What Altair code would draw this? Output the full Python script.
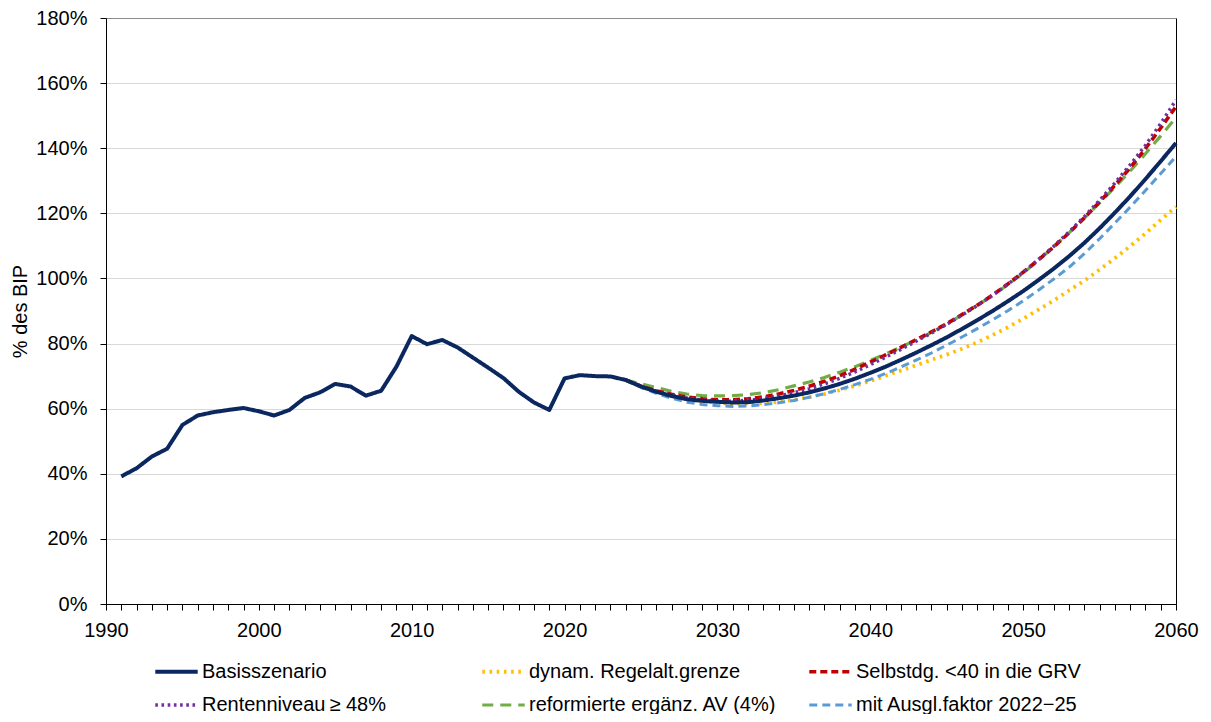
import altair as alt
import pandas as pd

# ---- data ----
hist_years = list(range(1991, 2024))
hist_vals = [39.2, 41.7, 45.3, 47.7, 55.0, 57.9, 58.9, 59.6, 60.2, 59.2,
             57.9, 59.6, 63.3, 65.0, 67.6, 66.8, 64.0, 65.5, 72.9, 82.3,
             79.8, 81.1, 78.8, 75.7, 72.6, 69.4, 65.2, 61.9, 59.6, 69.3,
             70.3, 70.0, 69.9]

proj_years = list(range(2024, 2061))
base_proj = [68.8, 66.8, 65.2, 63.9, 62.9, 62.4, 62.1, 61.9, 62.0, 62.5,
             63.2, 64.0, 65.0, 66.2, 67.6, 69.2, 71.0, 72.9, 75.0, 77.2,
             79.5, 81.9, 84.5, 87.2, 90.0, 93.0, 96.1, 99.5, 103.0, 106.8,
             110.9, 115.4, 120.2, 125.2, 130.5, 136.0, 141.6]
regelalt = [68.8, 66.8, 65.2, 63.9, 62.9, 62.3, 61.9, 61.6, 61.5, 61.7,
            62.1, 62.7, 63.5, 64.5, 65.7, 67.0, 68.5, 70.1, 71.7, 73.3,
            75.0, 76.6, 78.4, 80.4, 82.6, 85.0, 87.6, 90.4, 93.2, 96.3,
            99.3, 102.7, 106.2, 109.9, 113.8, 118.0, 122.0]
selbst = [68.8, 66.9, 65.5, 64.4, 63.6, 63.0, 62.7, 62.7, 63.0, 63.6,
          64.5, 65.6, 66.9, 68.4, 70.1, 72.1, 74.3, 76.5, 78.8, 81.2,
          83.6, 86.1, 88.9, 91.8, 94.9, 98.3, 101.9, 105.7, 109.7, 114.0,
          118.6, 123.5, 128.6, 134.0, 139.9, 146.2, 152.8]
rentenniveau = [68.8, 66.9, 65.4, 64.2, 63.3, 62.7, 62.4, 62.3, 62.6, 63.1,
                63.9, 64.9, 66.1, 67.6, 69.3, 71.3, 73.5, 75.8, 78.2, 80.7,
                83.2, 85.9, 88.7, 91.7, 94.8, 98.2, 101.9, 105.8, 109.9, 114.3,
                119.0, 124.0, 129.3, 134.9, 140.9, 147.6, 154.8]
reform_av = [68.8, 67.6, 66.5, 65.3, 64.5, 64.0, 63.9, 64.0, 64.3, 64.9,
             65.8, 67.0, 68.2, 69.6, 71.2, 72.9, 74.8, 76.8, 78.9, 81.1,
             83.4, 86.0, 88.8, 91.7, 94.8, 98.1, 101.6, 105.6, 109.7, 114.0,
             118.5, 123.2, 128.0, 133.0, 138.3, 143.8, 149.4]
ausgl = [68.8, 66.5, 64.7, 63.2, 62.0, 61.3, 60.9, 60.7, 60.8, 61.2,
         61.8, 62.5, 63.5, 64.6, 65.9, 67.4, 69.0, 70.8, 72.8, 74.9,
         77.1, 79.5, 82.0, 84.6, 87.3, 90.1, 93.1, 96.4, 99.8, 103.4,
         107.6, 112.2, 117.0, 121.9, 127.0, 132.2, 137.5]

names = ["Basisszenario", "dynam. Regelalt.grenze", "Selbstdg. <40 in die GRV",
         "Rentenniveau\u2009\u2265 48%", "reformierte erg\u00e4nz. AV (4%)",
         "mit Ausgl.faktor 2022\u221225"]
colors = ["#0B2760", "#FFC000", "#C00000", "#7030A0", "#70AD47", "#5B9BD5"]
dashes = [[1, 0], [2.6, 4.6], [7, 4], [2.6, 3.6], [11, 7], [8, 5]]
widths = [4, 3, 3, 3, 3, 3]

# ---- build table (draw order: scenarios first, base on top) ----
rows = []
series = [(names[1], regelalt), (names[4], reform_av), (names[2], selbst),
          (names[3], rentenniveau), (names[5], ausgl)]
for nm, vals in series:
    for y, v in zip(proj_years, vals):
        rows.append({"year": y, "value": v, "series": nm})
for y, v in zip(hist_years + proj_years, hist_vals + base_proj):
    rows.append({"year": y, "value": v, "series": names[0]})
df = pd.DataFrame(rows)

FONT = "Liberation Sans"

x_scale = alt.Scale(domain=[1990, 2060], nice=False, zero=False)
x_axis = alt.Axis(
    values=list(range(1990, 2061)),
    labelExpr="datum.value % 10 == 0 ? format(datum.value, 'd') : ''",
    labelOverlap=False, labelFlush=False, grid=False,
    tickSize=6, tickColor="black", domainColor="black",
    labelFontSize=20, labelFont=FONT, labelColor="black",
    labelPadding=10, title=None,
)

y_scale = alt.Scale(domain=[0, 180], nice=False, zero=True)

lines = alt.Chart(df).mark_line(strokeCap="butt", strokeJoin="round").encode(
    x=alt.X("year:Q", scale=x_scale, axis=x_axis),
    y=alt.Y(
        "value:Q", scale=y_scale,
        axis=alt.Axis(
            values=list(range(0, 181, 20)),
            labelExpr="datum.value + '%'",
            labelFlush=False, labelOverlap=False,
            grid=True,
            gridColor={"condition": {"test": "datum.value === 180", "value": "#8C8C8C"},
                       "value": "#D9D9D9"},
            gridWidth=1,
            tickSize=6, tickColor="black", domainColor="black",
            labelFontSize=20, labelFont=FONT, labelColor="black",
            labelPadding=13,
            title="% des BIP", titleFontSize=20, titleFont=FONT,
            titleFontWeight="normal", titleColor="black", titlePadding=5,
        ),
    ),
    color=alt.Color("series:N", scale=alt.Scale(domain=names, range=colors),
                    title=None),
    strokeDash=alt.StrokeDash("series:N", scale=alt.Scale(domain=names, range=dashes),
                              title=None),
    strokeWidth=alt.StrokeWidth("series:N", scale=alt.Scale(domain=names, range=widths),
                                title=None),
    detail="series:N",
)

border = alt.Chart(df).mark_line(opacity=0).encode(
    x=alt.X("year:Q", scale=x_scale, axis=x_axis),
    y=alt.Y("value:Q", scale=y_scale,
            axis=alt.Axis(orient="right", labels=False, ticks=False, grid=False,
                          domainColor="black", title=None)),
)

chart = alt.layer(lines, border).resolve_axis(y="independent").properties(
    width=1070, height=586,
    autosize=alt.AutoSizeParams(type="none"),
    padding={"left": 98, "top": 10, "right": 26, "bottom": 110},
).configure_view(stroke=None).configure_legend(
    orient="none", legendX=47, legendY=630, direction="horizontal",
    columns=3, gridAlign="all", columnPadding=24, rowPadding=-7,
    symbolType="stroke", symbolSize=1800, labelFontSize=20, labelFont=FONT,
    labelColor="black", labelLimit=500, labelOffset=2, padding=0,
)

chart.save("out.html", embed_options={"renderer": "svg", "actions": False})
